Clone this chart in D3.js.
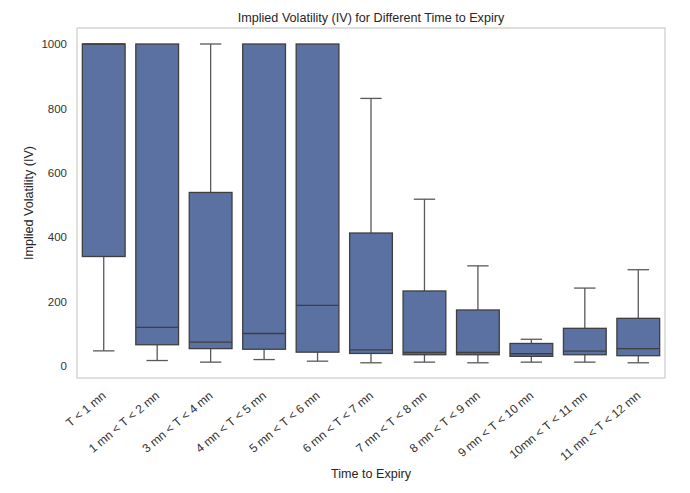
<!DOCTYPE html>
<html><head><meta charset="utf-8">
<script src="https://cdn.jsdelivr.net/npm/d3@7"></script>
<style>body{margin:0;background:#fff}svg{display:block}</style>
</head><body><svg id="c" width="690" height="493"></svg>
<script>
const categories = ["T < 1 mn","1 mn < T < 2 mn","3 mn < T < 4 mn","4 mn < T < 5 mn","5 mn < T < 6 mn","6 mn < T < 7 mn","7 mn < T < 8 mn","8 mn < T < 9 mn","9 mn < T < 10 mn","10mn < T < 11 mn","11 mn < T < 12 mn"];
const whiskerLow = [47, 17, 12, 20, 15, 10, 12, 10, 12, 12, 10];
const q1 =         [340, 66, 54, 52, 43, 39, 35, 35, 30, 35, 32];
const median =     [1000, 120, 74, 101, 188, 50, 42, 42, 38, 46, 54];
const q3 =         [1000, 1000, 539, 1000, 1000, 413, 233, 174, 70, 117, 148];
const whiskerHigh =[1000, 1000, 1000, 1000, 1000, 831, 518, 311, 83, 242, 299];
const yTicks = [0, 200, 400, 600, 800, 1000];

const svg = d3.select("#c");
const L = 77, R = 665, T = 28, B = 378;
const x = d3.scaleBand().domain(categories).range([L, R]).paddingInner(0).paddingOuter(0);
const y = d3.scaleLinear().domain([0, 1000]).range([366, 44]);
const font = "Liberation Sans, Arial, sans-serif";

svg.append("rect").attr("x", L).attr("y", T).attr("width", R - L).attr("height", B - T)
  .attr("fill", "none").attr("stroke", "#cccccc").attr("stroke-width", 1.2);

const bw = x.bandwidth() * 0.8;
const capW = bw * 0.5;
const g = svg.append("g");
categories.forEach((c, i) => {
  const cx = x(c) + x.bandwidth() / 2;
  const col = "#595959";
  g.append("line").attr("x1", cx).attr("x2", cx).attr("y1", y(q1[i])).attr("y2", y(whiskerLow[i])).attr("stroke", col).attr("stroke-width", 1.3);
  g.append("line").attr("x1", cx - capW/2).attr("x2", cx + capW/2).attr("y1", y(whiskerLow[i])).attr("y2", y(whiskerLow[i])).attr("stroke", col).attr("stroke-width", 1.3);
  if (whiskerHigh[i] > q3[i]) {
    g.append("line").attr("x1", cx).attr("x2", cx).attr("y1", y(q3[i])).attr("y2", y(whiskerHigh[i])).attr("stroke", col).attr("stroke-width", 1.3);
    g.append("line").attr("x1", cx - capW/2).attr("x2", cx + capW/2).attr("y1", y(whiskerHigh[i])).attr("y2", y(whiskerHigh[i])).attr("stroke", col).attr("stroke-width", 1.3);
  }
  g.append("rect").attr("x", cx - bw/2).attr("y", y(q3[i])).attr("width", bw).attr("height", y(q1[i]) - y(q3[i]))
    .attr("fill", "#5b71a1").attr("stroke", "#3f3f3f").attr("stroke-width", 1.3);
  g.append("line").attr("x1", cx - bw/2).attr("x2", cx + bw/2).attr("y1", y(median[i])).attr("y2", y(median[i])).attr("stroke", "#3f3f3f").attr("stroke-width", 1.3);
});

const ya = svg.append("g").attr("transform", `translate(${L},0)`)
  .call(d3.axisLeft(y).tickValues(yTicks).tickFormat(d3.format("d")).tickSize(0).tickPadding(10));
ya.select(".domain").remove();
ya.selectAll("text").attr("font-family", font).attr("font-size", 11.5).attr("fill", "#333333");

const xa = svg.append("g").attr("transform", `translate(0,${B})`)
  .call(d3.axisBottom(x).tickSize(0).tickPadding(0));
xa.select(".domain").remove();
xa.selectAll("text").attr("font-family", font).attr("font-size", 12).attr("fill", "#333333")
  .attr("text-anchor", "end").attr("dy", null).attr("y", 0)
  .attr("transform", "translate(3,19) rotate(-40)");

svg.append("text").attr("x", (L + R) / 2).attr("y", 21.5).attr("text-anchor", "middle")
  .attr("font-family", font).attr("font-size", 12.6).attr("fill", "#262626")
  .text("Implied Volatility (IV) for Different Time to Expiry");
svg.append("text").attr("x", (L + R) / 2).attr("y", 478).attr("text-anchor", "middle")
  .attr("font-family", font).attr("font-size", 12.6).attr("fill", "#262626").text("Time to Expiry");
svg.append("text").attr("transform", `translate(33,${(T + B) / 2}) rotate(-90)`).attr("text-anchor", "middle")
  .attr("font-family", font).attr("font-size", 12.6).attr("fill", "#262626").text("Implied Volatility (IV)");
</script></body></html>
